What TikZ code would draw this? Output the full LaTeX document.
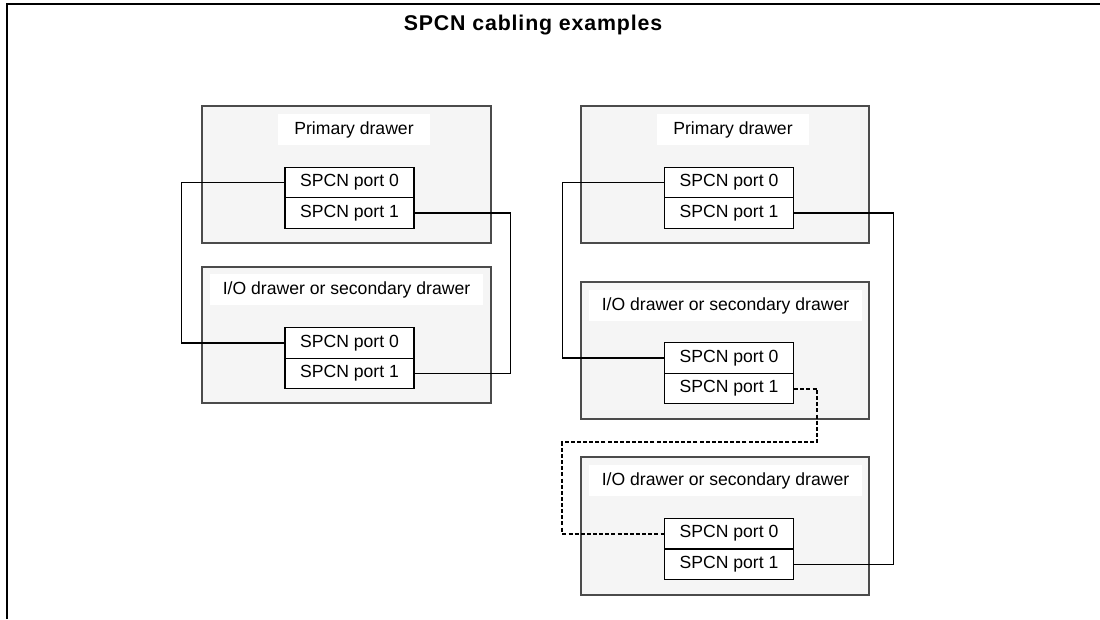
\documentclass[tikz,border=0pt]{standalone}
\usepackage{fontspec}
\usepackage{tikz}
\usepackage{xcolor}
\setmainfont{Liberation Sans}
\newfontfamily\titlefont[LetterSpace=4]{Liberation Sans}

\definecolor{drawerfill}{RGB}{245,245,245}
\definecolor{drawerline}{RGB}{75,75,75}

\begin{document}
\begin{tikzpicture}[x=0.75pt,y=0.75pt,yscale=-1,xscale=1,
  drawer/.style={draw=drawerline,fill=drawerfill,line width=1.1pt},
  drawerlabel/.style={fill=white,inner sep=0pt,minimum height=23.25pt,font=\fontsize{13.2}{15}\selectfont},
  port/.style={draw=black,fill=white,line width=1pt,inner sep=0pt,minimum width=96.75pt,minimum height=22.9pt,font=\fontsize{13.2}{15}\selectfont},
  cable/.style={draw=black,line width=0.8pt},
  cableopt/.style={draw=black,line width=1.5pt,dash pattern=on 3pt off 1.6pt}]

\useasboundingbox (0,0) rectangle (1100,619);

%Straight Lines [frame]
\draw [line width=1.5pt]  (7,619) -- (7,4) -- (1100,4) ;

% Text Node
\draw (533,25) node [font=\titlefont\bfseries\fontsize{16}{19}\selectfont] (title) {SPCN cabling examples};

%Shape: Rectangle [left primary]
\draw [drawer]  (202,106) rectangle (491,243) ;
%Shape: Rectangle [left secondary]
\draw [drawer]  (202,267) rectangle (491,403) ;

%Shape: Rectangle [right primary]
\draw [drawer]  (581,106) rectangle (869,243) ;
%Shape: Rectangle [right secondary, top]
\draw [drawer]  (581,282) rectangle (869,419) ;
%Shape: Rectangle [right secondary, bottom]
\draw [drawer]  (581,457) rectangle (869,595) ;

% Text Node
\draw (354,129.5) node [drawerlabel,minimum width=114pt] (lprimlbl) {Primary drawer};
% Text Node
\draw (346.5,289.5) node [drawerlabel,minimum width=204.75pt] (lseclbl) {I/O drawer or secondary drawer};
% Text Node
\draw (733,129.5) node [drawerlabel,minimum width=114pt] (rprimlbl) {Primary drawer};
% Text Node
\draw (725.5,305.5) node [drawerlabel,minimum width=204.75pt] (rseclbl) {I/O drawer or secondary drawer};
% Text Node
\draw (725.5,480.5) node [drawerlabel,minimum width=204.75pt] (rterlbl) {I/O drawer or secondary drawer};

% Ports
\draw (349.5,182.5) node [port] (lp0) {SPCN port 0};
\draw (349.5,213) node [port] (lp1) {SPCN port 1};
\draw (349.5,343) node [port] (lq0) {SPCN port 0};
\draw (349.5,373.5) node [port] (lq1) {SPCN port 1};

\draw (729,182.5) node [port] (rp0) {SPCN port 0};
\draw (729,213) node [port] (rp1) {SPCN port 1};
\draw (729,358) node [port] (rq0) {SPCN port 0};
\draw (729,388.5) node [port] (rq1) {SPCN port 1};
\draw (729,533.5) node [port] (rs0) {SPCN port 0};
\draw (729,564.5) node [port] (rs1) {SPCN port 1};

%Straight Lines [left cables]
\draw [cable]  (lp0.west) -- ++(-103,0) |- (lq0.west) ;
\draw [cable]  (lp1.east) -- ++(96,0) |- (lq1.east) ;

%Straight Lines [right cables]
\draw [cable]  (rp0.west) -- ++(-101,0) |- (rq0.west) ;
\draw [cable]  (rp1.east) -- ++(99,0) |- (rs1.east) ;
\draw [cableopt]  (rq1.east) -- ++(23,0) -- ++(0,53.5) -- ++(-255,0) |- (rs0.west) ;

\end{tikzpicture}
\end{document}
